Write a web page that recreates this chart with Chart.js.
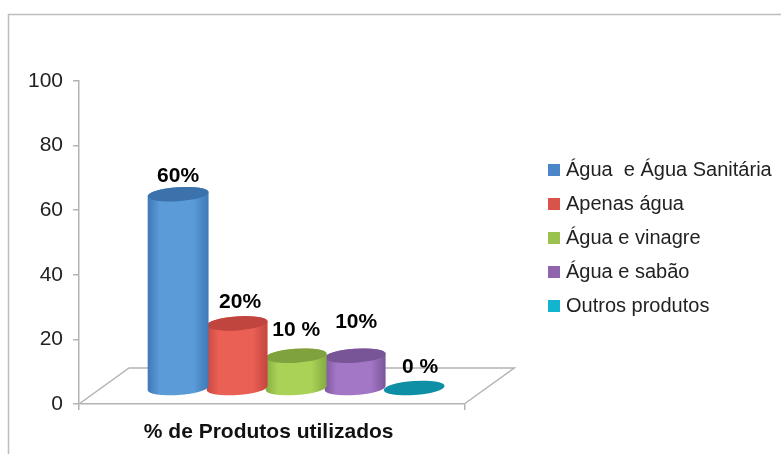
<!DOCTYPE html>
<html><head><meta charset="utf-8">
<style>html,body{margin:0;padding:0;background:#fff}#w{width:781px;height:454px;position:relative}canvas{filter:blur(0.45px)}</style>
<script src="https://cdn.jsdelivr.net/npm/chart.js@4/dist/chart.umd.min.js"></script>
</head><body><div id="w"><canvas id="c" width="781" height="454"></canvas></div>
<script>
const categories = ['% de Produtos utilizados'];
const seriesNames = ['Água  e Água Sanitária','Apenas água','Água e vinagre','Água e sabão','Outros produtos'];
const seriesValues = [60,20,10,10,0];
const valueLabels = ['60%','20%','10 %','10%','0 %'];
const yTicks = [0,20,40,60,80,100];
const legendColors = ['#4a86c8','#d9534a','#9bc24f','#8e64ae','#12b5cf'];
const sideColors = [['#3f78b8','#5a9bd8','#3d79b6'],['#c9473f','#ea6055','#c4463e'],['#86ad42','#a9d257','#84ab41'],['#7d58a0','#a477c6','#7a569c'],['#0b8ea3','#0b8ea3','#0b8ea3']];
const topColors = ['#3c72ab','#c0453e','#7fa23f','#785596','#0f8fa6'];
const labelNudge = [[0,-18],[3,-21],[0,-25],[1,-33],[6,-21]];
const DEPTH_X = 24.5, DEPTH_Y = 16, BACK_X = 50, BACK_Y = 36, RY = 7, TILT = -0.07;
const gray = '#b3b3b3';
const font = 'Liberation Sans';

const frame = { id:'frame',
  beforeDraw(chart){ const c=chart.ctx; c.save(); c.strokeStyle='#bdbdbd'; c.lineWidth=1.5;
    c.beginPath(); c.moveTo(8.5,454); c.lineTo(8.5,14.5); c.lineTo(781,14.5); c.stroke(); c.restore(); },
  beforeDatasetsDraw(chart){ const c=chart.ctx,x=chart.scales.x,y0=chart.scales.y.getPixelForValue(0);
    c.save(); c.strokeStyle=gray; c.lineWidth=1.5; c.beginPath();
    c.moveTo(x.left,y0); c.lineTo(x.left+BACK_X,y0-BACK_Y); c.lineTo(x.right+BACK_X,y0-BACK_Y); c.lineTo(x.right,y0);
    c.stroke(); c.restore(); }
};
const cylinders = { id:'cylinders',
  beforeDatasetDraw(chart,args){
    const i=args.index, bar=args.meta.data[0], c=chart.ctx, y0=chart.scales.y.getPixelForValue(0);
    const cx=bar.x+DEPTH_X, topY=bar.y-DEPTH_Y, botY=y0-DEPTH_Y, rx=bar.width/2+1;
    c.save();
    if(botY-topY>0.5){
      const g=c.createLinearGradient(cx-rx,0,cx+rx,0), s=sideColors[i];
      g.addColorStop(0,s[0]); g.addColorStop(0.2,s[1]); g.addColorStop(0.75,s[1]); g.addColorStop(1,s[2]);
      c.fillStyle=g; c.beginPath();
      c.ellipse(cx,topY,rx,RY,TILT,Math.PI,0,false);
      c.ellipse(cx,botY,rx,RY,TILT,0,Math.PI,false);
      c.closePath(); c.fill();
    }
    c.fillStyle=topColors[i]; c.beginPath(); c.ellipse(cx,topY,rx,RY,TILT,0,Math.PI*2); c.fill();
    c.fillStyle='#000'; c.font='bold 21px "'+font+'"'; c.textAlign='center'; c.textBaseline='middle';
    c.fillText(valueLabels[i],cx+labelNudge[i][0],topY+labelNudge[i][1]);
    c.restore();
    return false;
  }
};
const moveLegend = { id:'moveLegend', afterLayout(chart){ const l=chart.legend; l.left=538; l.top=146; l.right=781; l.width=243; l.bottom=454; l.height=308; } };

new Chart(document.getElementById('c'),{
  type:'bar',
  data:{labels:categories,datasets:seriesNames.map((n,i)=>({label:n,data:[seriesValues[i]],backgroundColor:legendColors[i],borderColor:legendColors[i],borderWidth:8}))},
  plugins:[frame,cylinders,moveLegend],
  options:{responsive:false,animation:false,
    layout:{padding:{top:81,left:18,right:168,bottom:8}},
    datasets:{bar:{categoryPercentage:0.766,barPercentage:1}},
    plugins:{tooltip:{enabled:false},
      legend:{position:'right',align:'start',labels:{boxWidth:4,boxHeight:4,padding:14,color:'#222',font:{family:font,size:20}}}},
    scales:{
      x:{afterFit(s){s.height=42;},grid:{drawOnChartArea:false,tickLength:6,color:gray,lineWidth:1.5},border:{color:gray,width:1.5},
         ticks:{color:'#111',padding:10,labelOffset:-3,font:{family:font,size:21,weight:'bold'}}},
      y:{min:0,max:100,afterBuildTicks(s){s.ticks=yTicks.map(v=>({value:v}));},
         grid:{drawOnChartArea:false,tickLength:6,color:gray,lineWidth:1.5},border:{color:gray,width:1.5},
         ticks:{color:'#222',padding:10,font:{family:font,size:21}}}
    }
  }
});
</script></body></html>
